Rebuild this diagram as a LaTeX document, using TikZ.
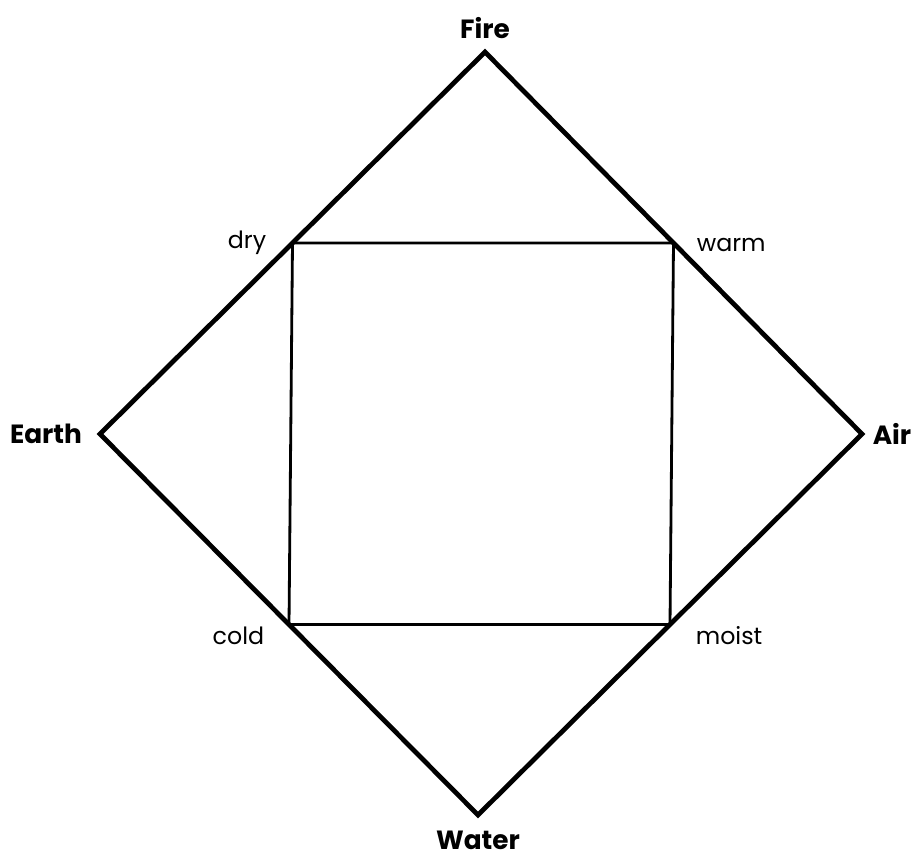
\documentclass[tikz,border=0pt]{standalone}
\usepackage{fontspec}
\setmainfont{Poppins}
\usetikzlibrary{positioning,calc}

\begin{document}
\begin{tikzpicture}[
    x=0.02cm, y=-0.02cm,
    element/.style={font=\fontsize{15}{18}\selectfont\bfseries, inner sep=2pt},
    quality/.style={font=\fontsize{13.5}{16}\selectfont, inner sep=2pt},
    outer/.style={line width=2.7pt, line join=miter},
    inner/.style={line width=1.6pt}
]
    \useasboundingbox (0,0) rectangle (923,857);

    % vertices of the diamond
    \coordinate (F) at (485,52);   % top
    \coordinate (A) at (862,434);  % right
    \coordinate (W) at (478,815);  % bottom
    \coordinate (E) at (100,434);  % left

    % corners of the square (on the diamond's sides)
    \coordinate (D) at ($(F)!0.5!(E)$);
    \coordinate (H) at ($(F)!0.5!(A)$);
    \coordinate (M) at ($(A)!0.5!(W)$);
    \coordinate (C) at ($(W)!0.5!(E)$);

    \draw[outer] (F) -- (A) -- (W) -- (E) -- cycle;
    \draw[inner] (D) -- (H) -- (M) -- (C) -- cycle;

    % element names
    \node[element] (fire) at (485,28) {Fire};
    \node[element] (air) at (892,434) {Air};
    \node[element] (water) at (478,840) {Water};
    \node[element] (earth) at (46,434) {Earth};

    % qualities
    \node[quality, anchor=east] (dry) at (270,243) {dry};
    \node[quality, anchor=west] (warm) at (693,245) {warm};
    \node[quality, anchor=east] (cold) at (268,636) {cold};
    \node[quality, anchor=west] (moist) at (692,636) {moist};
\end{tikzpicture}
\end{document}
